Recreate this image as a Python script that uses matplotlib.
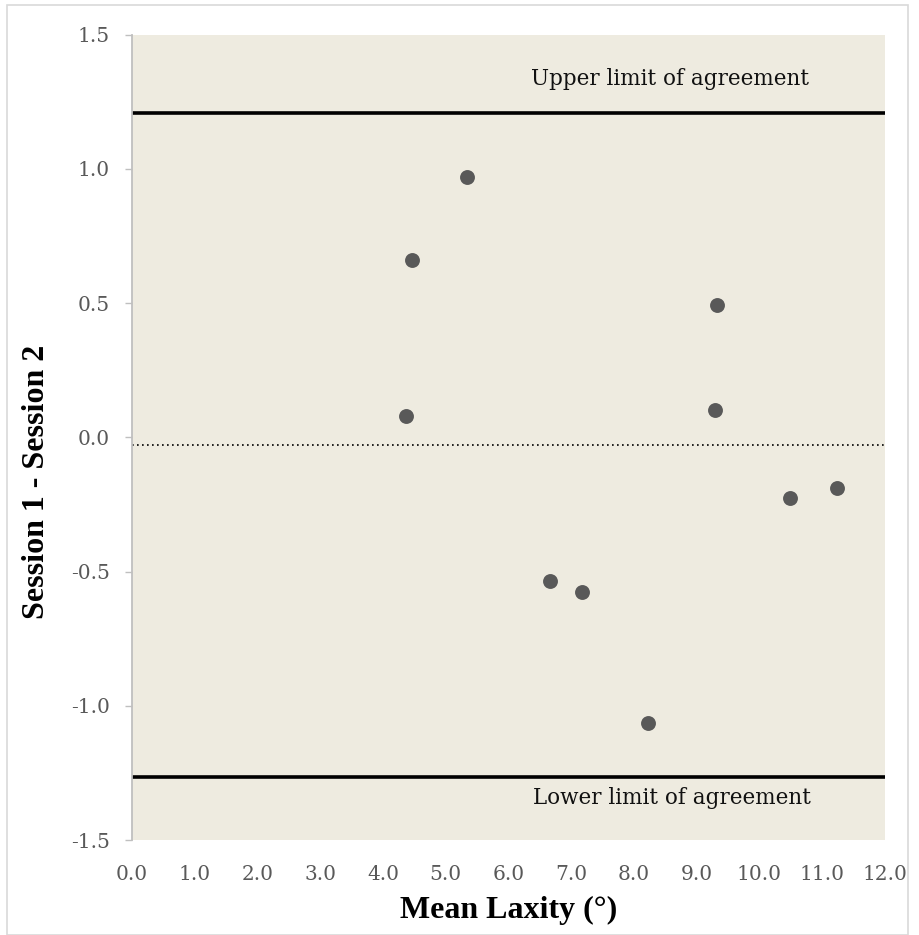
import matplotlib
matplotlib.use("Agg")
import matplotlib.pyplot as plt
from matplotlib.patches import Rectangle
from matplotlib.ticker import MultipleLocator, FormatStrFormatter

plt.rcParams['font.family'] = ['DejaVu Serif']
plt.rcParams['axes.unicode_minus'] = False

# data
mean_laxity = [4.37, 4.47, 5.34, 6.66, 7.17, 8.23, 9.33, 9.29, 10.49, 11.23]
diff = [0.079, 0.661, 0.969, -0.536, -0.577, -1.064, 0.492, 0.101, -0.227, -0.189]
upper_loa = 1.208
lower_loa = -1.264
mean_diff = -0.029

fig = plt.figure(figsize=(9.2, 9.35), dpi=100)
ax = fig.add_axes([132 / 920, 1 - 840 / 935, (885 - 132) / 920, (840 - 34.5) / 935])
ax.set_facecolor('#EEEBE0')

# outer frame of the chart
fig.patches.append(Rectangle((7 / 920, 0), (908 - 7) / 920, 1 - 5 / 935,
                             transform=fig.transFigure, fill=False,
                             edgecolor='#D9D9D9', linewidth=1.2))

ax.axhline(upper_loa, color='black', linewidth=2.6, solid_capstyle='butt')
ax.axhline(lower_loa, color='black', linewidth=2.6, solid_capstyle='butt')
ax.axhline(mean_diff, color='black', linewidth=1.2, linestyle=(0, (1, 2)))

ax.scatter(mean_laxity, diff, s=115, color='#595959', zorder=3, linewidths=0)

ax.text(8.58, 1.335, 'Upper limit of agreement', ha='center', va='center', fontsize=15.5, color='#111111')
ax.text(8.6, -1.345, 'Lower limit of agreement', ha='center', va='center', fontsize=15.5, color='#111111')

ax.set_xlim(0, 12)
ax.set_ylim(-1.5, 1.5)
ax.xaxis.set_major_locator(MultipleLocator(1.0))
ax.yaxis.set_major_locator(MultipleLocator(0.5))
ax.xaxis.set_major_formatter(FormatStrFormatter('%.1f'))
ax.yaxis.set_major_formatter(FormatStrFormatter('%.1f'))

for s in ['top', 'right', 'bottom']:
    ax.spines[s].set_visible(False)
ax.spines['left'].set_color('#BFBFBF')
ax.spines['left'].set_linewidth(1.3)

ax.tick_params(axis='y', length=5, width=1, color='#BFBFBF', labelsize=14.5, labelcolor='#595959', pad=11)
ax.tick_params(axis='x', length=0, labelsize=14.5, labelcolor='#595959', pad=18)

# axis titles (Times-like bold)
fig.text(509 / 920, 1 - 910 / 935, 'Mean Laxity (°)', ha='center', va='center',
         fontsize=23, fontweight='bold', family=['Liberation Serif', 'DejaVu Serif'])
fig.text(37 / 920, 1 - 482 / 935, 'Session 1 - Session 2', ha='center', va='center', rotation=90,
         fontsize=23, fontweight='bold', family=['Liberation Serif', 'DejaVu Serif'])

fig.savefig('out.png', dpi=100)
